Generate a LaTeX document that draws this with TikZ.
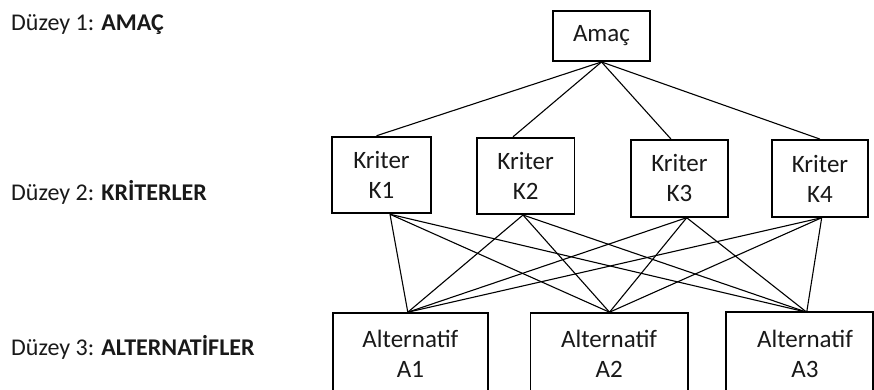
\documentclass[tikz,border=0pt]{standalone}
\usepackage{fontspec}
\setmainfont{Carlito}
\usetikzlibrary{calc}
\begin{document}
\begin{tikzpicture}[x=1pt,y=-1pt,
  boxline/.style={draw=black,line width=1.9pt},
  kbox/.style={boxline,inner sep=0pt,align=center,font=\fontsize{25}{30}\selectfont,text=black!90},
  abox/.style={kbox,minimum height=81.7pt},
  link/.style={draw=black,line width=1.1pt},
  level/.style={anchor=base west,inner sep=0pt,font=\fontsize{24}{28}\selectfont,text=black!90}]
\useasboundingbox (0,0) rectangle (874,389);
\clip (0,0) rectangle (874,389);
\fill[white] (0,0) rectangle (874,389);
% level labels
\node[level] (l1) at (11,30) {Düzey 1: \textbf{AMAÇ}};
\node[level] (l2) at (11,200) {Düzey 2: \textbf{KRİTERLER}};
\node[level] (l3) at (11,355) {Düzey 3: \textbf{ALTERNATİFLER}};
% goal
\node[kbox,minimum width=97pt,minimum height=50pt] (amac) at (601.5,36) {Amaç};
% criteria
\node[kbox,minimum width=99pt,minimum height=76.6pt] (k1) at (381.5,175) {Kriter\\K1};
\node[kbox,minimum width=97.8pt,minimum height=76.3pt] (k2) at (525.6,175.9) {Kriter\\K2};
\node[kbox,minimum width=96.7pt,minimum height=76.7pt] (k3) at (679.4,178.4) {Kriter\\K3};
\node[kbox,minimum width=96.6pt,minimum height=76.7pt] (k4) at (820,178.4) {Kriter\\K4};
% alternatives
\node[abox,minimum width=155.3pt] (a1) at (410.4,354) {Alternatif\\A1};
\node[abox,minimum width=157.2pt] (a2) at (609.1,354) {Alternatif\\A2};
\node[abox,minimum width=156pt,draw=none] (a3) at (805,354) {Alternatif\\A3};
\draw[boxline] (a3.north west) rectangle (873.3,395);
% goal to criteria
\draw[link] (amac.south) -- ($(k1.north)+(-5,0)$);
\draw[link] (amac.south) -- ($(k2.north)+(-12.6,0)$);
\draw[link] (amac.south) -- ($(k3.north)+(-8.4,0)$);
\draw[link] (amac.south) -- (k4.north);
% criteria to alternatives
\coordinate (b1) at ($(k1.south)+(8.5,0)$);
\coordinate (b2) at ($(k2.south)+(-2.6,0)$);
\coordinate (b3) at ($(k3.south)+(7.3,0)$);
\coordinate (b4) at ($(k4.south)+(1.7,0)$);
\coordinate (t1) at ($(a1.north)+(-2.6,0)$);
\coordinate (t2) at ($(a2.north)+(0.4,0)$);
\coordinate (t3) at ($(a3.north)+(1.7,0)$);
\foreach \k in {b1,b2,b3,b4}{
  \foreach \a in {t1,t2,t3}{
    \draw[link] (\k) -- (\a);
  }
}
\end{tikzpicture}
\end{document}
